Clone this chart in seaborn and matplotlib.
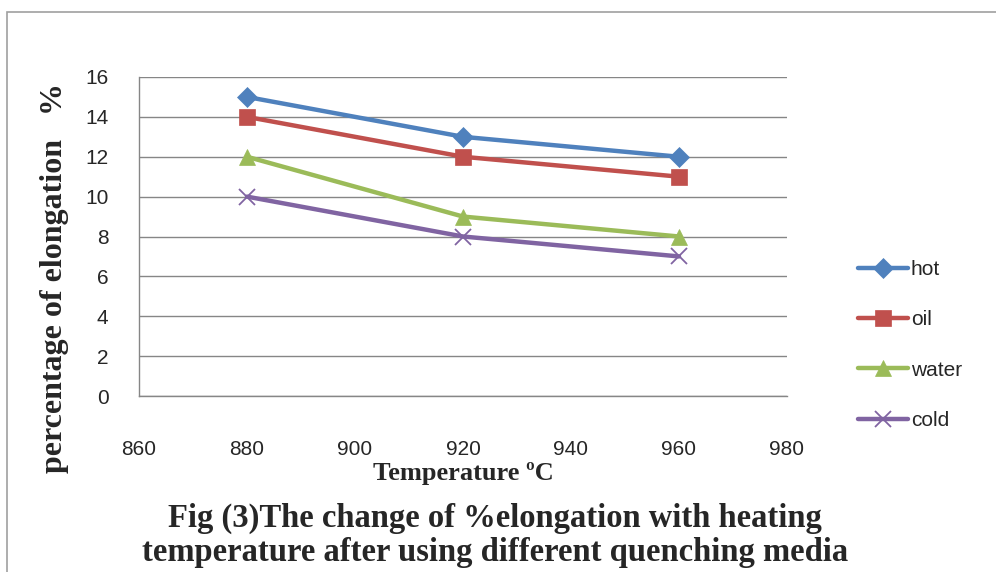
import pandas as pd
import matplotlib.pyplot as plt
import seaborn as sns
from matplotlib.patches import Rectangle

# ====== Data ======
temperature = [880, 920, 960]
hot = [15, 13, 12]
oil = [14, 12, 11]
water = [12, 9, 8]
cold = [10, 8, 7]
series_names = ["hot", "oil", "water", "cold"]
x_ticks = [860, 880, 900, 920, 940, 960, 980]
y_ticks = [0, 2, 4, 6, 8, 10, 12, 14, 16]

df = pd.DataFrame({
    "Temperature": temperature * 4,
    "elongation": hot + oil + water + cold,
    "medium": [n for n in series_names for _ in temperature],
})

colors = {"hot": "#4F81BD", "oil": "#C0504D", "water": "#9BBB59", "cold": "#8064A2"}
markers = {"hot": "D", "oil": "s", "water": "^", "cold": "x"}
msize = {"hot": 10, "oil": 12, "water": 12, "cold": 12}

sns.set_style("white")
tick_font = ["Liberation Sans", "DejaVu Sans"]

fig = plt.figure(figsize=(9.96, 5.72), dpi=100)
ax = fig.add_axes([139 / 996, 1 - 396 / 572, (787 - 139) / 996, (396 - 77) / 572])

# outer chart frame (left and top edges visible)
fig.patches.append(Rectangle((7 / 996, -0.1), 1.2, 1 - 12 / 572 + 0.1,
                             transform=fig.transFigure, fill=False,
                             edgecolor="#A0A0A0", linewidth=1.2))

for name in series_names:
    sub = df[df["medium"] == name]
    sns.lineplot(data=sub, x="Temperature", y="elongation", ax=ax,
                 color=colors[name], linewidth=3.2, marker=markers[name],
                 markersize=msize[name], markeredgecolor=colors[name],
                 markeredgewidth=1.3 if name == "cold" else 0.5, label=name)

ax.set_xlim(860, 980)
ax.set_ylim(0, 16)
ax.set_xticks(x_ticks)
ax.set_yticks(y_ticks)
ax.yaxis.grid(True, color="#868686", linewidth=1)
ax.xaxis.grid(False)
for side in ["top", "right"]:
    ax.spines[side].set_visible(False)
for side in ["left", "bottom"]:
    ax.spines[side].set_color("#868686")
    ax.spines[side].set_linewidth(1)
ax.tick_params(axis="both", length=0, labelsize=15)
ax.tick_params(axis="x", pad=32)
ax.tick_params(axis="y", pad=22)
for lab in ax.get_xticklabels() + ax.get_yticklabels():
    lab.set_family(tick_font)

ax.set_xlabel("Temperature \u00baC", fontfamily="Liberation Serif",
              fontweight="bold", fontsize=19, labelpad=2)
ax.set_ylabel("percentage of elongation   %", fontfamily="Liberation Serif",
              fontweight="bold", fontsize=23)
ax.yaxis.set_label_coords(-0.108, 0.37)

leg = ax.legend(loc="center left", bbox_to_anchor=(1.08, 0.16), frameon=False,
                handlelength=2.4, handletextpad=0.15, labelspacing=1.5,
                prop={"family": tick_font, "size": 15})

fig.text(495 / 996, 1 - 518 / 572, "Fig (3)The change of %elongation with heating",
         ha="center", va="center", fontfamily="Liberation Serif",
         fontweight="bold", fontsize=23.5)
fig.text(495 / 996, 1 - 553 / 572, "temperature after using different quenching media",
         ha="center", va="center", fontfamily="Liberation Serif",
         fontweight="bold", fontsize=23.5)

fig.savefig("out.png", dpi=100)
